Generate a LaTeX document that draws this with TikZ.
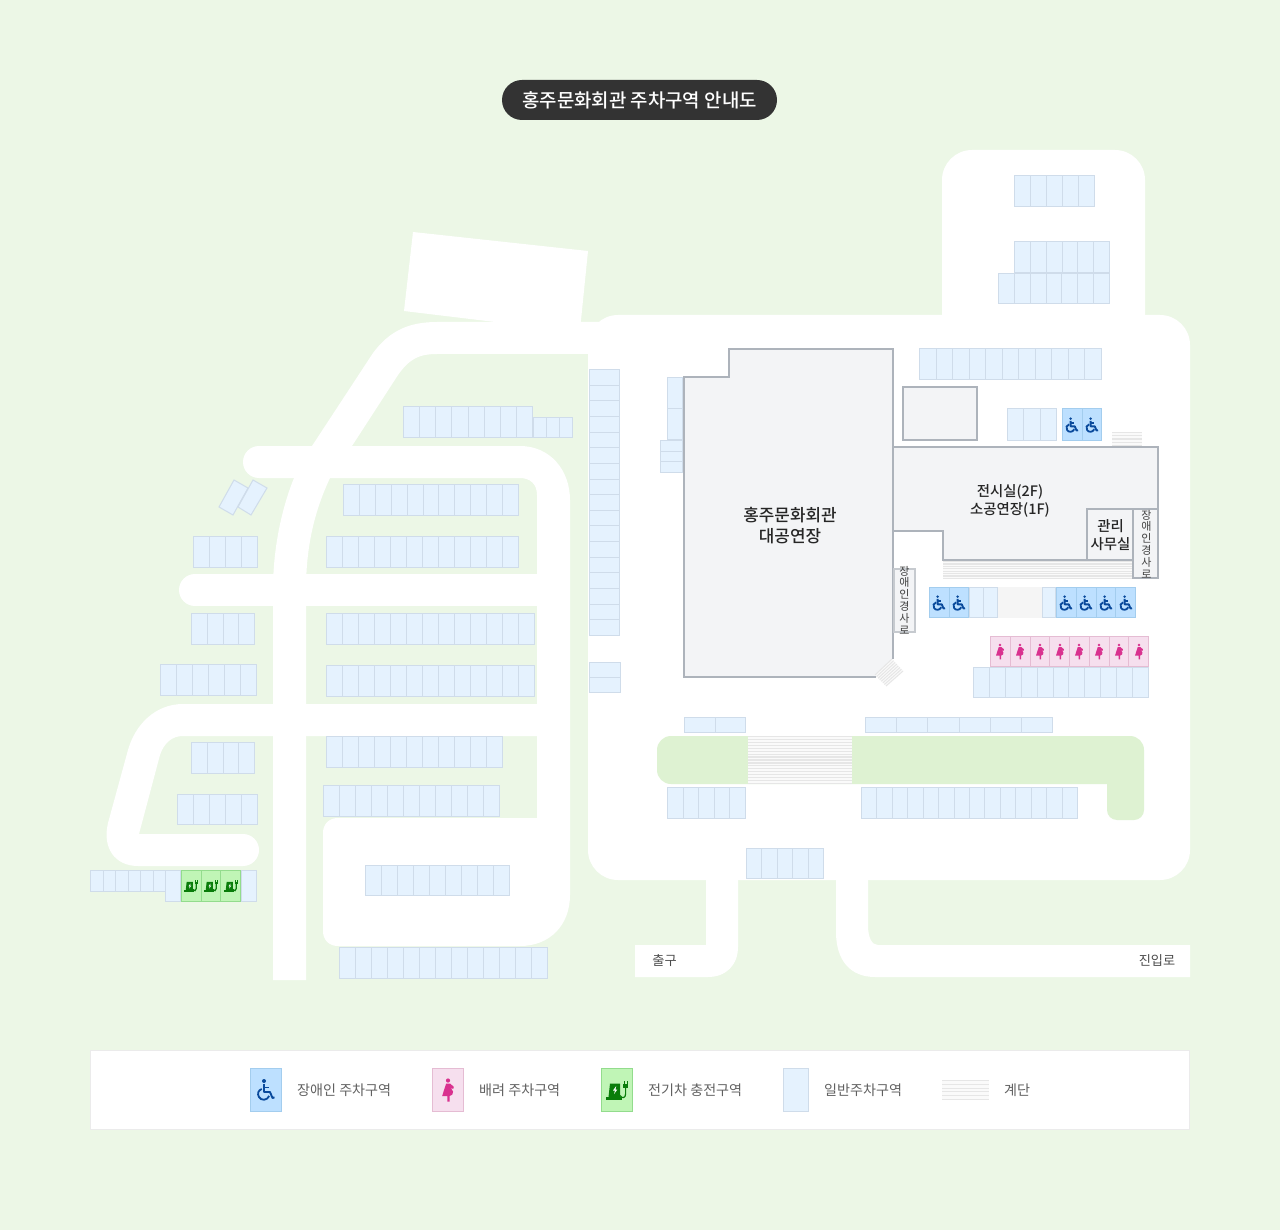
\documentclass[tikz,border=0pt]{standalone}
\usepackage{fontspec}
\setmainfont{Noto Sans CJK KR}
\newfontfamily\medfont{Noto Sans CJK KR Medium}
\definecolor{lawn}{HTML}{ECF7E6}
\definecolor{planter}{HTML}{DEF2D2}
\definecolor{bayfill}{HTML}{E5F2FE}
\definecolor{bayline}{HTML}{CFDCEA}
\definecolor{dislfill}{HTML}{BDE0FF}
\definecolor{disline}{HTML}{A3CDEE}
\definecolor{disicon}{HTML}{0A4A9C}
\definecolor{momfill}{HTML}{F6DFEE}
\definecolor{momline}{HTML}{E5BCD3}
\definecolor{momicon}{HTML}{D9318F}
\definecolor{evfill}{HTML}{C0F5B6}
\definecolor{evline}{HTML}{93DC8D}
\definecolor{evicon}{HTML}{0A7D0A}
\definecolor{hall}{HTML}{F3F4F6}
\definecolor{wall}{HTML}{ADB3BB}
\definecolor{stepline}{HTML}{E6E6E6}
\tikzset{
  road/.style={fill=white,draw=none},
  bay/.style={fill=bayfill,draw=bayline,line width=1pt},
  disbay/.style={fill=dislfill,draw=disline,line width=1pt},
  mombay/.style={fill=momfill,draw=momline,line width=1pt},
  evbay/.style={fill=evfill,draw=evline,line width=1pt},
  wallbox/.style={fill=hall,draw=wall,line width=2.7pt},
  ramp/.style={fill=hall,draw=wall!70,line width=1.2pt},
  maplabel/.style={text=black!85,inner sep=0pt,align=center,font=\medfont\fontsize{14.4}{18}\selectfont},
  ramplabel/.style={text=black!75,inner sep=0pt,align=center,font=\fontsize{11}{11.8}\selectfont},
  legendlabel/.style={text=black!62,inner sep=0pt,anchor=west,font=\fontsize{14.1}{17}\selectfont},
  pics/wheel/.style={code={
    \fill[disicon] (-2,-9) circle (2);
    \draw[disicon,line width=1.9pt,line join=round] (-2,-6) -- (-2,2) -- (4,2) -- (6.5,8) -- (8.5,7.3);
    \draw[disicon,line width=1.7pt] (-2,-2.5) -- (3,-2.5);
    \draw[disicon,line width=1.8pt] (-4.2,-1) .. controls (-7.8,0) and (-9,4) .. (-7,7) .. controls (-5,10.8) and (1,10.8) .. (3.2,6);
  }},
  pics/mom/.style={code={
    \fill[momicon] (0,-9.5) circle (2.1);
    \fill[momicon] (-1.8,-6.5) -- (2,-6.5) -- (5.8,-3.2) -- (5.2,-1) -- (2.8,-2.3) -- (5,1.5) .. controls (5.6,4) and (4,5.5) .. (1.6,6) -- (1.6,11.5) -- (-0.6,11.5) -- (-0.6,6) -- (-5.8,6) -- (-4,0) -- cycle;
  }},
  pics/charger/.style={code={
    \fill[evicon] (-7,-6.5) -- (3,-6.5) -- (3,7) -- (-8.5,7) -- cycle;
    \fill[evicon] (-11,7) rectangle (5,9.5);
    \fill[white] (-0.8,-4) -- (-4,0.5) -- (-2,0.5) -- (-3,4) -- (0.4,-0.5) -- (-1.5,-0.5) -- cycle;
    \draw[evicon,line width=1.2pt] (3,5.5) .. controls (5,9) and (8.6,8) .. (8.6,4) -- (8.6,-3);
    \fill[evicon] (6.3,-6.5) rectangle (10.9,-2.5);
    \draw[evicon,line width=1pt] (7.2,-6.5) -- (7.2,-9) (10,-6.5) -- (10,-9);
  }}
}
% row of bays, divided along x
\newcommand{\bayrow}[6]{
  \foreach \i in {1,...,#6}
    \draw[#1] ({#2+.5+(\i-1)*(#4-#2-1)/#6},#3+.5) rectangle ({#2+.5+\i*(#4-#2-1)/#6},#5-.5);
}
% column of bays, divided along y
\newcommand{\baycol}[5]{
  \foreach \i in {1,...,#5}
    \draw[bay] (#1+.5,{#2+.5+(\i-1)*(#4-#2-1)/#5}) rectangle (#3-.5,{#2+.5+\i*(#4-#2-1)/#5});
}
% stairs with flat treads
\newcommand{\treads}[5]{
  \fill[black!2] (#1,#2) rectangle (#3,#4);
  \foreach \i in {0,...,#5}
    \draw[stepline,line width=1.2pt] (#1,{#2+.6+\i*(#4-#2-1.2)/#5}) -- (#3,{#2+.6+\i*(#4-#2-1.2)/#5});
}
\begin{document}
\begin{tikzpicture}[x=1pt,y=-1pt]
  \useasboundingbox (0,0) rectangle (1280,1230);
  \fill[lawn] (0,0) rectangle (1280,1230);

  % roads
  \fill[road] (413,232) -- (588,251) -- (580,330) -- (497,330) -- (495,322) -- (404,311) -- cycle;
  \fill[road,rounded corners=30pt] (942,150) rectangle (1145,420);
  \fill[road,rounded corners=30pt] (588,315) rectangle (1190,880);
  \fill[road] (312,446) -- (373,353) .. controls (390,330) and (410,322) .. (437,322) -- (620,322) -- (620,354) -- (437,354) .. controls (420,354) and (410,358) .. (398,375) -- (352,446) -- (330,478) .. controls (315,510) and (306,545) .. (306,590) -- (306,980) -- (273,980) -- (273,590) .. controls (273,545) and (283,505) .. (294,478) -- cycle;
  \draw[white,line width=32pt,line cap=round] (259,462) -- (300,462);
  \fill[road] (259,446) -- (520,446) .. controls (550,446) and (570,470) .. (570,500) -- (570,895) .. controls (570,925) and (550,946) .. (520,946) -- (338,946) .. controls (329,946) and (323,940) .. (323,931) -- (323,833) .. controls (323,824) and (329,818) .. (338,818) -- (537,818) -- (537,495) .. controls (537,484) and (530,478) .. (520,478) -- (259,478) -- cycle;
  \draw[white,line width=32pt,line cap=round] (195,590) -- (300,590);
  \fill[road] (195,574) rectangle (540,606);
  \fill[road] (540,704) -- (183,704) .. controls (155,704) and (135,725) .. (128,750) -- (108,823) .. controls (102,848) and (115,866) .. (138,866) -- (243,866) -- (243,834) -- (139,834) -- (160,755) .. controls (164,743) and (172,736) .. (183,736) -- (540,736) -- cycle;
  \draw[white,line width=32pt,line cap=round] (243,850) -- (200,850);
  \fill[road] (706,860) -- (706,945) -- (635,945) -- (635,977) -- (708,977) .. controls (726,977) and (738,965) .. (738,947) -- (738,860) -- cycle;
  \fill[road] (836,860) -- (836,932) .. controls (836,960) and (850,977) .. (875,977) -- (1190,977) -- (1190,945) -- (878,945) .. controls (872,945) and (868,938) .. (868,925) -- (868,860) -- cycle;

  % planter
  \fill[planter,rounded corners=14pt] (657,736) rectangle (1144,784);
  \fill[planter,rounded corners=10pt] (1107,760) rectangle (1144,820);
  \fill[planter] (1107,750) rectangle (1134,784);
  \treads{748}{736}{852}{784}{16}

  % buildings
  \fill[hall] (684,377) -- (729,377) -- (729,349) -- (893,349) -- (893,659) -- (876,677) -- (684,677) -- cycle;
  \draw[wall,line width=2.7pt] (876,677) -- (684,677) -- (684,377) -- (729,377) -- (729,349) -- (893,349) -- (893,659);
  \draw[wallbox] (903,387) rectangle (977,440);
  \draw[wallbox] (893,447) -- (1158,447) -- (1158,509) -- (1133,509) -- (1133,560) -- (943,560) -- (943,531) -- (893,531) -- cycle;
  \draw[wallbox] (1087,509) rectangle (1133,560);
  \draw[ramp,draw=wall,line width=2pt] (1133,509) rectangle (1158,578);
  \draw[ramp] (894,569) rectangle (915,632);
  \treads{943}{561}{1132}{579}{7}
  \treads{1112}{432}{1142}{446}{4}
  \fill[black!2] (875,675) -- (892,659) -- (903,671) -- (886,686) -- cycle;
  \foreach \i in {0,...,7}
    \draw[stepline,line width=1pt] ({875+\i*11/7},{675+\i*11/7}) -- ({892+\i*11/7},{659+\i*12/7});

  % bays round the lots
  \bayrow{bay}{1014}{175}{1095}{207}{5}
  \bayrow{bay}{1014}{241}{1110}{273}{6}
  \bayrow{bay}{998}{273}{1110}{304}{7}
  \bayrow{bay}{919}{348}{1102}{380}{11}
  \bayrow{bay}{1007}{408}{1057}{441}{3}
  \bayrow{disbay}{1062}{408}{1102}{441}{2}
  \bayrow{disbay}{929}{587}{969}{618}{2}
  \bayrow{bay}{969}{587}{998}{618}{2}
  \fill[black!4] (998,587) rectangle (1042,618);
  \bayrow{bay}{1042}{587}{1056}{618}{1}
  \bayrow{disbay}{1056}{587}{1136}{618}{4}
  \bayrow{mombay}{990}{636}{1149}{667}{8}
  \bayrow{bay}{973}{667}{1149}{698}{11}
  \bayrow{bay}{684}{717}{746}{733}{2}
  \bayrow{bay}{865}{717}{1053}{733}{6}
  \bayrow{bay}{667}{787}{746}{819}{5}
  \bayrow{bay}{861}{787}{1078}{819}{14}
  \bayrow{bay}{746}{848}{824}{879}{5}
  \baycol{589}{369}{620}{636}{17}
  \baycol{589}{662}{621}{693}{2}
  \baycol{667}{377}{683}{440}{2}
  \baycol{660}{440}{683}{473}{3}
  \bayrow{bay}{403}{406}{533}{438}{8}
  \bayrow{bay}{533}{417}{573}{438}{3}
  \draw[bay] (234,480) -- (219,507) -- (233,515) -- (248,488) -- cycle;
  \draw[bay] (253,480) -- (238,507) -- (251,515) -- (267,488) -- cycle;
  \bayrow{bay}{343}{484}{519}{516}{11}
  \bayrow{bay}{326}{536}{519}{568}{12}
  \bayrow{bay}{193}{536}{258}{568}{4}
  \bayrow{bay}{326}{613}{535}{645}{13}
  \bayrow{bay}{191}{613}{255}{645}{4}
  \bayrow{bay}{160}{664}{257}{696}{6}
  \bayrow{bay}{326}{665}{535}{697}{13}
  \bayrow{bay}{191}{742}{255}{774}{4}
  \bayrow{bay}{326}{736}{503}{768}{11}
  \bayrow{bay}{177}{794}{258}{825}{5}
  \bayrow{bay}{323}{785}{500}{817}{11}
  \bayrow{bay}{365}{865}{510}{896}{9}
  \bayrow{bay}{339}{947}{548}{979}{13}
  \bayrow{bay}{90}{870}{166}{892}{6}
  \bayrow{bay}{165}{870}{181}{902}{1}
  \bayrow{evbay}{181}{870}{241}{902}{3}
  \bayrow{bay}{241}{870}{257}{902}{1}

  % icons on the bays
  \foreach \x in {1072,1092}
    \pic[scale=.7] at (\x,425) {wheel};
  \foreach \x in {939,959,1066,1086,1106,1126}
    \pic[scale=.7] at (\x,603) {wheel};
  \foreach \x in {1000,1020,1040,1060,1079,1099,1119,1139}
    \pic[scale=.68] at (\x,651.5) {mom};
  \foreach \x in {191,211,231}
    \pic[scale=.62] at (\x,886) {charger};

  % titles
  \fill[black!80,rounded corners=20pt] (502,80) rectangle (777,120);
  \node[text=white,inner sep=0pt,font=\medfont\fontsize{18.9}{22}\selectfont] (title) at (639.5,100.5) {홍주문화회관 주차구역 안내도};
  \node[maplabel,font=\medfont\fontsize{16.9}{21}\selectfont] (mainhall) at (790,525.5) {홍주문화회관\\대공연장};
  \node[maplabel] (exhibit) at (1010,500.5) {전시실(2F)\\소공연장(1F)};
  \node[maplabel] (office) at (1110.5,535) {관리\\사무실};
  \node[ramplabel] (rampa) at (904.5,600) {장\\애\\인\\경\\사\\로};
  \node[ramplabel] (rampb) at (1146.5,544) {장\\애\\인\\경\\사\\로};
  \node[text=black!70,inner sep=0pt,font=\fontsize{13.2}{16}\selectfont] (exitroad) at (664.5,960.5) {출구};
  \node[text=black!70,inner sep=0pt,font=\fontsize{13.2}{16}\selectfont] (entryroad) at (1157,960.5) {진입로};

  % legend
  \draw[fill=white,draw=black!8] (90.5,1050.5) rectangle (1189.5,1129.5);
  \draw[disbay] (250.5,1068.5) rectangle (281.5,1111.5);
  \pic at (266,1090) {wheel};
  \node[legendlabel] (legdis) at (297,1090) {장애인 주차구역};
  \draw[mombay] (432.5,1068.5) rectangle (463.5,1111.5);
  \pic at (448,1090) {mom};
  \node[legendlabel] (legmom) at (479,1090) {배려 주차구역};
  \draw[evbay] (601.5,1068.5) rectangle (632.5,1111.5);
  \pic at (617,1090) {charger};
  \node[legendlabel] (legev) at (648,1090) {전기차 충전구역};
  \draw[bay] (783.5,1068.5) rectangle (808.5,1111.5);
  \node[legendlabel] (leggen) at (824,1090) {일반주차구역};
  \treads{942}{1080}{989}{1100}{5}
  \node[legendlabel] (legstair) at (1004,1090) {계단};
\end{tikzpicture}
\end{document}
